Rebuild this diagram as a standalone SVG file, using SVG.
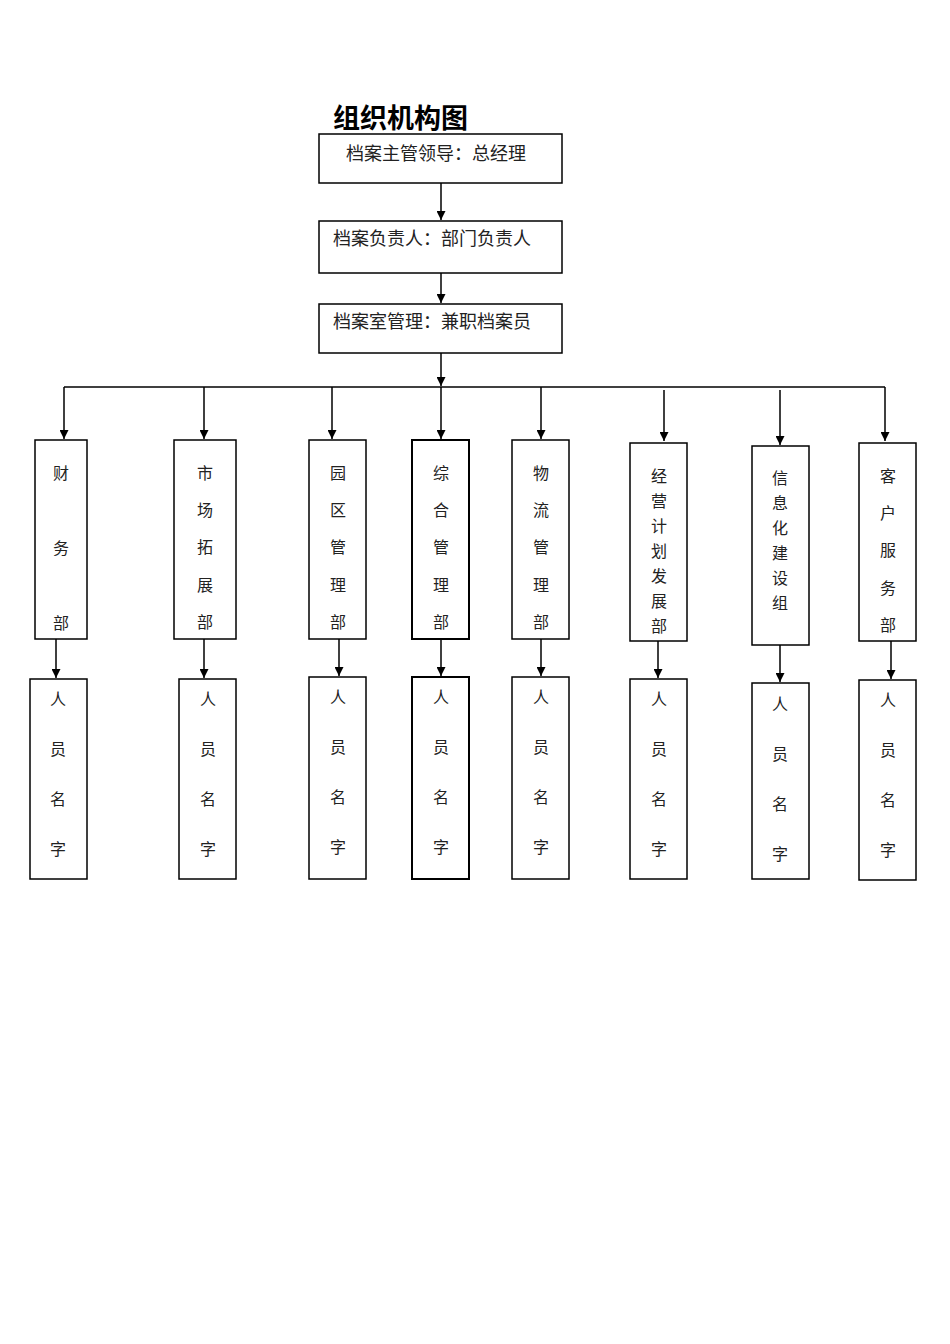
<svg xmlns="http://www.w3.org/2000/svg" width="950" height="1344" viewBox="0 0 950 1344">
<style>
rect{fill:#fff;stroke:#000;stroke-width:1.5}
text{font-family:"Noto Sans CJK SC","Liberation Serif",serif;font-size:16px;fill:#222}
.c{text-anchor:middle}
.b{font-size:18px}
.t{font-size:27px;font-weight:bold;fill:#000}
line{stroke:#000;stroke-width:1.5;fill:none}
.ah{fill:#000;stroke:none}
</style>
<defs><marker id="a" viewBox="0 0 10 10" refX="10" refY="5" markerWidth="6" markerHeight="6" orient="auto"><path class="ah" d="M0,0L10,5L0,10z"/></marker></defs>
<rect width="950" height="1344" style="stroke:none"/>
<text class="t" x="333" y="128">组织机构图</text>
<g id="connectors">
<line x1="441" y1="183" x2="441" y2="220" marker-end="url(#a)"/>
<line x1="441" y1="273" x2="441" y2="303" marker-end="url(#a)"/>
<line x1="441" y1="353" x2="441" y2="386" marker-end="url(#a)"/>
<line x1="64" y1="387" x2="885" y2="387"/>
<line x1="64" y1="387" x2="64" y2="439" marker-end="url(#a)"/>
<line x1="204" y1="387" x2="204" y2="439" marker-end="url(#a)"/>
<line x1="332" y1="387" x2="332" y2="439" marker-end="url(#a)"/>
<line x1="441" y1="387" x2="441" y2="439" marker-end="url(#a)"/>
<line x1="541" y1="387" x2="541" y2="439" marker-end="url(#a)"/>
<line x1="664" y1="390" x2="664" y2="441" marker-end="url(#a)"/>
<line x1="780" y1="390" x2="780" y2="445" marker-end="url(#a)"/>
<line x1="885" y1="387" x2="885" y2="441" marker-end="url(#a)"/>
<line x1="56" y1="639" x2="56" y2="678" marker-end="url(#a)"/>
<line x1="204" y1="639" x2="204" y2="678" marker-end="url(#a)"/>
<line x1="339" y1="639" x2="339" y2="676" marker-end="url(#a)"/>
<line x1="441" y1="639" x2="441" y2="676" marker-end="url(#a)"/>
<line x1="541" y1="639" x2="541" y2="676" marker-end="url(#a)"/>
<line x1="658" y1="641" x2="658" y2="678" marker-end="url(#a)"/>
<line x1="780" y1="645" x2="780" y2="682" marker-end="url(#a)"/>
<line x1="891" y1="641" x2="891" y2="679" marker-end="url(#a)"/>
</g>
<g id="n1"><rect x="319" y="134" width="243" height="49"/><text class="b" x="346" y="160">档案主管领导：总经理</text></g>
<g id="n2"><rect x="319" y="221" width="243" height="52"/><text class="b" x="333" y="245">档案负责人：部门负责人</text></g>
<g id="n3"><rect x="319" y="304" width="243" height="49"/><text class="b" x="333" y="328">档案室管理：兼职档案员</text></g>
<g id="d1"><rect x="35" y="440" width="52" height="199"/><text class="c" x="61" y="479">财</text><text class="c" x="61" y="554">务</text><text class="c" x="61" y="629">部</text></g>
<g id="d2"><rect x="174" y="440" width="62" height="199"/><text class="c" x="205" y="479">市</text><text class="c" x="205" y="516">场</text><text class="c" x="205" y="553">拓</text><text class="c" x="205" y="591">展</text><text class="c" x="205" y="628">部</text></g>
<g id="d3"><rect x="309" y="440" width="57" height="199"/><text class="c" x="338" y="479">园</text><text class="c" x="338" y="516">区</text><text class="c" x="338" y="553">管</text><text class="c" x="338" y="591">理</text><text class="c" x="338" y="628">部</text></g>
<g id="d4"><rect x="412" y="440" width="57" height="199" style="stroke-width:2"/><text class="c" x="441" y="479">综</text><text class="c" x="441" y="516">合</text><text class="c" x="441" y="553">管</text><text class="c" x="441" y="591">理</text><text class="c" x="441" y="628">部</text></g>
<g id="d5"><rect x="512" y="440" width="57" height="199"/><text class="c" x="541" y="479">物</text><text class="c" x="541" y="516">流</text><text class="c" x="541" y="553">管</text><text class="c" x="541" y="591">理</text><text class="c" x="541" y="628">部</text></g>
<g id="d6"><rect x="630" y="443" width="57" height="198"/><text class="c" x="659" y="482">经</text><text class="c" x="659" y="507">营</text><text class="c" x="659" y="532">计</text><text class="c" x="659" y="557">划</text><text class="c" x="659" y="582">发</text><text class="c" x="659" y="607">展</text><text class="c" x="659" y="632">部</text></g>
<g id="d7"><rect x="752" y="446" width="57" height="199"/><text class="c" x="780" y="484">信</text><text class="c" x="780" y="509">息</text><text class="c" x="780" y="534">化</text><text class="c" x="780" y="559">建</text><text class="c" x="780" y="584">设</text><text class="c" x="780" y="609">组</text></g>
<g id="d8"><rect x="859" y="443" width="57" height="198"/><text class="c" x="888" y="482">客</text><text class="c" x="888" y="519">户</text><text class="c" x="888" y="556">服</text><text class="c" x="888" y="594">务</text><text class="c" x="888" y="631">部</text></g>
<g id="p1"><rect x="30" y="679" width="57" height="200"/><text class="c" x="58" y="705">人</text><text class="c" x="58" y="755">员</text><text class="c" x="58" y="805">名</text><text class="c" x="58" y="855">字</text></g>
<g id="p2"><rect x="179" y="679" width="57" height="200"/><text class="c" x="208" y="705">人</text><text class="c" x="208" y="755">员</text><text class="c" x="208" y="805">名</text><text class="c" x="208" y="855">字</text></g>
<g id="p3"><rect x="309" y="677" width="57" height="202"/><text class="c" x="338" y="703">人</text><text class="c" x="338" y="753">员</text><text class="c" x="338" y="803">名</text><text class="c" x="338" y="853">字</text></g>
<g id="p4"><rect x="412" y="677" width="57" height="202" style="stroke-width:2"/><text class="c" x="441" y="703">人</text><text class="c" x="441" y="753">员</text><text class="c" x="441" y="803">名</text><text class="c" x="441" y="853">字</text></g>
<g id="p5"><rect x="512" y="677" width="57" height="202"/><text class="c" x="541" y="703">人</text><text class="c" x="541" y="753">员</text><text class="c" x="541" y="803">名</text><text class="c" x="541" y="853">字</text></g>
<g id="p6"><rect x="630" y="679" width="57" height="200"/><text class="c" x="659" y="705">人</text><text class="c" x="659" y="755">员</text><text class="c" x="659" y="805">名</text><text class="c" x="659" y="855">字</text></g>
<g id="p7"><rect x="752" y="683" width="57" height="196"/><text class="c" x="780" y="710">人</text><text class="c" x="780" y="760">员</text><text class="c" x="780" y="810">名</text><text class="c" x="780" y="860">字</text></g>
<g id="p8"><rect x="859" y="680" width="57" height="200"/><text class="c" x="888" y="706">人</text><text class="c" x="888" y="756">员</text><text class="c" x="888" y="806">名</text><text class="c" x="888" y="856">字</text></g>
</svg>
